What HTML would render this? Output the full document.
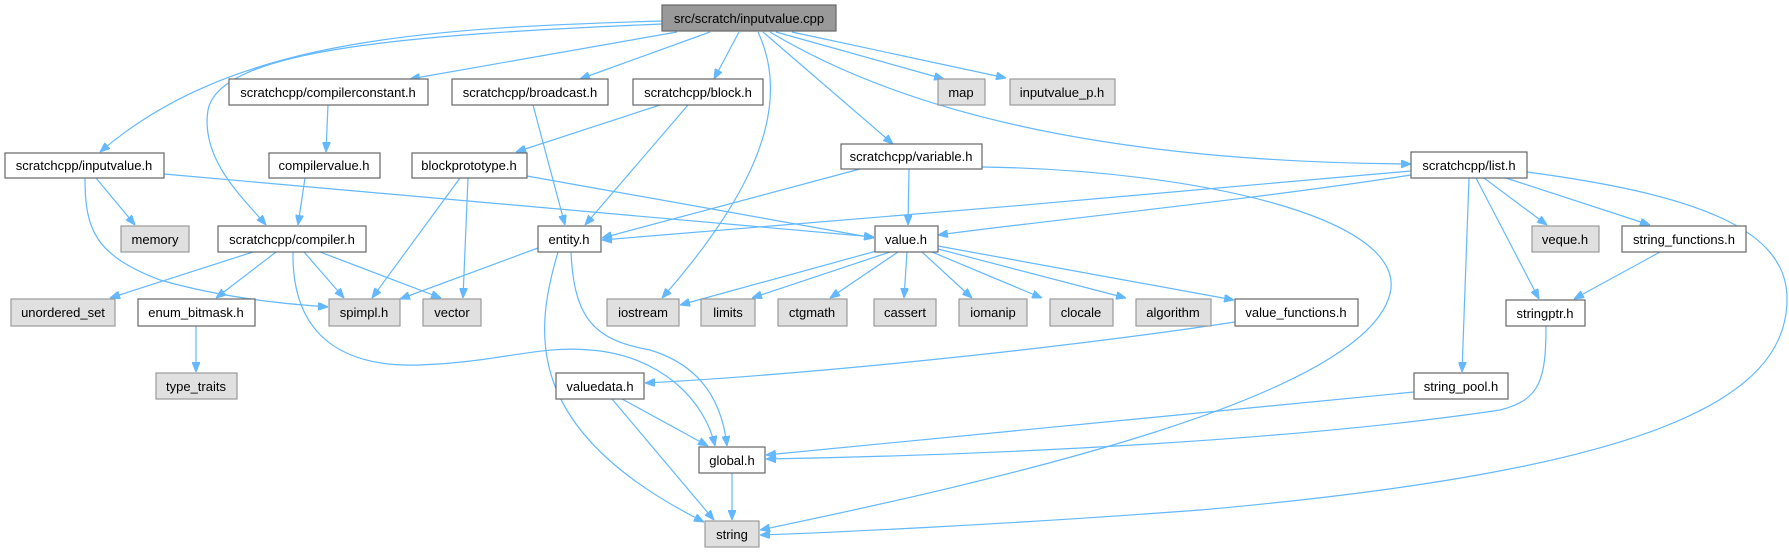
<!DOCTYPE html>
<html><head><meta charset="utf-8"><style>
html,body{margin:0;padding:0;background:#fff;}
svg{display:block;}
text{font-family:"Liberation Sans",Helvetica,Arial,sans-serif;font-size:13px;fill:#000;}
.n rect{fill:#fff;stroke:#666;stroke-width:1.2;}
.g rect{fill:#e0e0e0;stroke:#999;stroke-width:1.2;}
.r rect{fill:#999;stroke:#666;stroke-width:1.2;}
path.e{fill:none;stroke:#63b8ff;stroke-width:1.2;}
</style></head><body>
<svg width="1789" height="552" viewBox="0 0 1789 552" xmlns="http://www.w3.org/2000/svg">
<defs>
<marker id="a" viewBox="0 0 10 8" refX="10" refY="4" markerWidth="10" markerHeight="8" markerUnits="userSpaceOnUse" orient="auto">
<path d="M0,0 L10,4 L0,8 z" fill="#63b8ff" stroke="#63b8ff"/>
</marker>
</defs>
<g marker-end="url(#a)">
<path class="e" d="M662,21 C420,28 230,40 100,152"/>
<path class="e" d="M662,24 C400,35 220,50 208,110 C200,160 245,200 266,225"/>
<path class="e" d="M677,32 L410,79"/>
<path class="e" d="M710,32 L580,79"/>
<path class="e" d="M739,32 L714,79"/>
<path class="e" d="M758,32 C785,90 775,170 662,298"/>
<path class="e" d="M763,32 L893,144"/>
<path class="e" d="M770,32 C900,110 1100,162 1411,164"/>
<path class="e" d="M776,32 L944,79"/>
<path class="e" d="M792,32 L1006,78"/>
<path class="e" d="M96,178 L135,225"/>
<path class="e" d="M85,178 C85,230 95,255 160,280 C230,300 300,305 328,307"/>
<path class="e" d="M164,174 L874,237"/>
<path class="e" d="M328,105 L326,152"/>
<path class="e" d="M305,178 L298,225"/>
<path class="e" d="M533,105 L565,225"/>
<path class="e" d="M660,105 L516,152"/>
<path class="e" d="M688,105 L585,225"/>
<path class="e" d="M460,178 L372,298"/>
<path class="e" d="M468,178 L463,298"/>
<path class="e" d="M527,176 L874,238"/>
<path class="e" d="M253,252 L110,298"/>
<path class="e" d="M276,252 L216,298"/>
<path class="e" d="M304,252 L344,298"/>
<path class="e" d="M320,252 L441,298"/>
<path class="e" d="M293,252 C292,320 325,368 420,365 C500,362 540,345 590,350 C660,355 705,400 715,446"/>
<path class="e" d="M196,326 L196,372"/>
<path class="e" d="M538,248 L400,299"/>
<path class="e" d="M558,252 C535,330 520,430 704,522"/>
<path class="e" d="M571,252 C574,320 595,340 650,350 C700,365 722,400 727,446"/>
<path class="e" d="M860,169 L602,238"/>
<path class="e" d="M909,169 L908,225"/>
<path class="e" d="M982,167 C1200,170 1420,220 1388,300 C1350,400 1000,480 760,530"/>
<path class="e" d="M1411,171 C1200,190 800,225 602,240"/>
<path class="e" d="M1411,175 C1250,200 1050,220 938,235"/>
<path class="e" d="M1484,178 L1547,225"/>
<path class="e" d="M1506,178 L1650,225"/>
<path class="e" d="M1476,178 L1539,299"/>
<path class="e" d="M1469,178 L1462,372"/>
<path class="e" d="M1527,172 C1700,195 1788,230 1787,300 C1786,400 1650,470 1200,510 C1000,525 820,533 760,535"/>
<path class="e" d="M1660,252 L1574,299"/>
<path class="e" d="M1546,326 C1546,380 1540,400 1500,410 C1300,440 1000,455 766,459"/>
<path class="e" d="M1414,392 L766,455"/>
<path class="e" d="M880,250 L680,305"/>
<path class="e" d="M890,252 L752,298"/>
<path class="e" d="M898,252 L830,298"/>
<path class="e" d="M907,252 L904,298"/>
<path class="e" d="M922,252 L972,298"/>
<path class="e" d="M932,252 L1042,298"/>
<path class="e" d="M938,249 L1126,298"/>
<path class="e" d="M938,246 L1234,300"/>
<path class="e" d="M1235,322 C1050,350 800,375 645,383"/>
<path class="e" d="M622,399 L708,446"/>
<path class="e" d="M612,399 L714,520"/>
<path class="e" d="M732,473 L732,520"/>
</g>
<g class="r"><rect x="662" y="5" width="174" height="26"/><text x="749" y="23" text-anchor="middle">src/scratch/inputvalue.cpp</text></g>
<g class="n"><rect x="229" y="79" width="199" height="26"/><text x="328" y="97" text-anchor="middle">scratchcpp/compilerconstant.h</text></g>
<g class="n"><rect x="452" y="79" width="156" height="26"/><text x="530" y="97" text-anchor="middle">scratchcpp/broadcast.h</text></g>
<g class="n"><rect x="633" y="79" width="130" height="26"/><text x="698" y="97" text-anchor="middle">scratchcpp/block.h</text></g>
<g class="g"><rect x="938" y="79" width="47" height="26"/><text x="961" y="97" text-anchor="middle">map</text></g>
<g class="g"><rect x="1010" y="79" width="105" height="26"/><text x="1062" y="97" text-anchor="middle">inputvalue_p.h</text></g>
<g class="n"><rect x="5" y="153" width="159" height="25"/><text x="84" y="170" text-anchor="middle">scratchcpp/inputvalue.h</text></g>
<g class="n"><rect x="269" y="153" width="111" height="25"/><text x="324" y="170" text-anchor="middle">compilervalue.h</text></g>
<g class="n"><rect x="412" y="153" width="115" height="25"/><text x="469" y="170" text-anchor="middle">blockprototype.h</text></g>
<g class="n"><rect x="841" y="144" width="141" height="25"/><text x="911" y="161" text-anchor="middle">scratchcpp/variable.h</text></g>
<g class="n"><rect x="1411" y="152" width="116" height="26"/><text x="1469" y="170" text-anchor="middle">scratchcpp/list.h</text></g>
<g class="g"><rect x="121" y="226" width="68" height="26"/><text x="155" y="244" text-anchor="middle">memory</text></g>
<g class="n"><rect x="218" y="226" width="148" height="26"/><text x="292" y="244" text-anchor="middle">scratchcpp/compiler.h</text></g>
<g class="n"><rect x="538" y="226" width="63" height="26"/><text x="569" y="244" text-anchor="middle">entity.h</text></g>
<g class="n"><rect x="875" y="226" width="63" height="26"/><text x="906" y="244" text-anchor="middle">value.h</text></g>
<g class="g"><rect x="1532" y="226" width="67" height="26"/><text x="1565" y="244" text-anchor="middle">veque.h</text></g>
<g class="n"><rect x="1622" y="226" width="124" height="26"/><text x="1684" y="244" text-anchor="middle">string_functions.h</text></g>
<g class="g"><rect x="11" y="299" width="104" height="27"/><text x="63" y="317" text-anchor="middle">unordered_set</text></g>
<g class="n"><rect x="138" y="299" width="117" height="27"/><text x="196" y="317" text-anchor="middle">enum_bitmask.h</text></g>
<g class="g"><rect x="329" y="299" width="71" height="27"/><text x="364" y="317" text-anchor="middle">spimpl.h</text></g>
<g class="g"><rect x="423" y="299" width="58" height="27"/><text x="452" y="317" text-anchor="middle">vector</text></g>
<g class="g"><rect x="607" y="299" width="72" height="27"/><text x="643" y="317" text-anchor="middle">iostream</text></g>
<g class="g"><rect x="701" y="299" width="54" height="27"/><text x="728" y="317" text-anchor="middle">limits</text></g>
<g class="g"><rect x="778" y="299" width="69" height="27"/><text x="812" y="317" text-anchor="middle">ctgmath</text></g>
<g class="g"><rect x="874" y="299" width="62" height="27"/><text x="905" y="317" text-anchor="middle">cassert</text></g>
<g class="g"><rect x="959" y="299" width="68" height="27"/><text x="993" y="317" text-anchor="middle">iomanip</text></g>
<g class="g"><rect x="1050" y="299" width="63" height="27"/><text x="1081" y="317" text-anchor="middle">clocale</text></g>
<g class="g"><rect x="1136" y="299" width="75" height="27"/><text x="1173" y="317" text-anchor="middle">algorithm</text></g>
<g class="n"><rect x="1235" y="299" width="123" height="27"/><text x="1296" y="317" text-anchor="middle">value_functions.h</text></g>
<g class="n"><rect x="1506" y="300" width="79" height="26"/><text x="1545" y="318" text-anchor="middle">stringptr.h</text></g>
<g class="g"><rect x="156" y="373" width="81" height="26"/><text x="196" y="391" text-anchor="middle">type_traits</text></g>
<g class="n"><rect x="556" y="373" width="88" height="26"/><text x="600" y="391" text-anchor="middle">valuedata.h</text></g>
<g class="n"><rect x="1414" y="373" width="94" height="26"/><text x="1461" y="391" text-anchor="middle">string_pool.h</text></g>
<g class="n"><rect x="699" y="447" width="66" height="26"/><text x="732" y="465" text-anchor="middle">global.h</text></g>
<g class="g"><rect x="705" y="521" width="54" height="26"/><text x="732" y="539" text-anchor="middle">string</text></g>
</svg>
</body></html>
